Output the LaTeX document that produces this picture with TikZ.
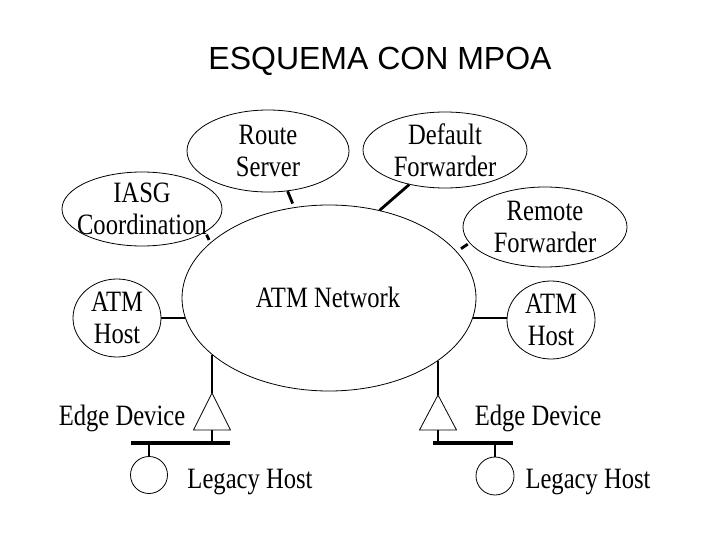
\documentclass[tikz,border=0pt]{standalone}
\usepackage{fontspec}
\usepackage{graphicx}
\setmainfont{Liberation Serif}
\newfontfamily\titlefont{Liberation Sans}
\usetikzlibrary{positioning,shapes.geometric}
\newcommand{\tall}[1]{\scalebox{1}[1.2]{#1}}

\begin{document}
\begin{tikzpicture}[
  x=1pt, y=-1pt,
  cloud/.style={draw, ellipse, line width=0.8pt, inner sep=0pt},
  lbl/.style={font=\fontsize{24.6}{32}\selectfont, align=center, inner sep=0pt},
  link/.style={line width=2.8pt},
  wire/.style={line width=1.8pt},
  bus/.style={line width=4.5pt},
  dev/.style={draw, line width=0.8pt, fill=white}
]
\useasboundingbox (0,0) rectangle (720,540);
\node[font=\titlefont\fontsize{32}{38}\selectfont, anchor=base] (title) at (380,70) {ESQUEMA CON MPOA};

% ATM network and servers
\node[cloud, minimum width=294pt, minimum height=186pt] (net) at (329,298) {};
\node[lbl, anchor=base] (netl) at (328,307) {\tall{ATM Network}};
\node[cloud, minimum width=162pt, minimum height=82pt] (rs) at (268,151) {};
\node[lbl] (rsl) at (rs.center) {\tall{Route}\\\tall{Server}};
\node[cloud, minimum width=160pt, minimum height=74pt] (iasg) at (142,209) {};
\node[lbl] (iasgl) at (iasg.center) {\tall{IASG}\\\tall{Coordination}};
\node[cloud, minimum width=164pt, minimum height=76pt] (df) at (445,150) {};
\node[lbl] (dfl) at (df.center) {\tall{Default}\\\tall{Forwarder}};
\node[cloud, minimum width=164pt, minimum height=80pt] (rf) at (545,227) {};
\node[lbl] (rfl) at (rf.center) {\tall{Remote}\\\tall{Forwarder}};

\draw[link, shorten >=4pt] (rs.-64) -- (net.111);
\draw[link, shorten <=3pt, shorten >=3pt] (iasg.-20) -- (net.155);
\draw[link] (df.-136) -- (net.60);
\draw[link, shorten <=2pt, shorten >=5pt] (rf.-168) -- (net.20);

% ATM hosts
\node[cloud, minimum width=88pt, minimum height=78pt] (lhost) at (117,318) {};
\node[lbl] (lhostl) at (lhost.center) {\tall{ATM}\\\tall{Host}};
\node[cloud, minimum width=88pt, minimum height=78pt] (rhost) at (551,320) {};
\node[lbl] (rhostl) at (rhost.center) {\tall{ATM}\\\tall{Host}};
\draw[link] (lhost.east) -- (lhost.east -| net.188);
\draw[link] (rhost.west |- lhost.east) -- (lhost.east -| net.-8);

% edge devices
\coordinate (lapex) at (212,393);
\coordinate (lbase) at (212,430);
\draw[dev] (lapex) -- ++(-18.5,37) -- ++(37,0) -- cycle;
\draw[wire] (lapex |- net.-154) -- (lapex);
\coordinate (rapex) at (438,395);
\coordinate (rbase) at (438,430);
\draw[dev] (rapex) -- ++(-18.5,35) -- ++(37,0) -- cycle;
\draw[wire] (rapex |- net.-30) -- (rapex);

\coordinate (lbusw) at (131,443);
\coordinate (lbuse) at (230,443);
\coordinate (rbusw) at (433,443);
\coordinate (rbuse) at (513,443);
\draw[bus] (lbusw) -- (lbuse);
\draw[bus] (rbusw) -- (rbuse);
\draw[wire] (lbase) -- (lbase |- lbusw);
\draw[wire] (rbase) -- (rbase |- rbusw);

% legacy hosts
\node[draw, circle, line width=0.8pt, inner sep=0pt, minimum size=37pt] (llegacy) at (149,475) {};
\node[draw, circle, line width=0.8pt, inner sep=0pt, minimum size=38pt] (rlegacy) at (495,476) {};
\draw[wire] (llegacy.north) -- (llegacy.north |- lbusw);
\draw[wire] (rlegacy.north) -- (rlegacy.north |- rbusw);

\node[lbl, anchor=base] (ledgel) at (122,425) {\tall{Edge Device}};
\node[lbl, anchor=base] (redgel) at (538,425) {\tall{Edge Device}};
\node[lbl, anchor=base] (llegl) at (250,488) {\tall{Legacy Host}};
\node[lbl, anchor=base] (rlegl) at (588,488) {\tall{Legacy Host}};
\end{tikzpicture}
\end{document}
